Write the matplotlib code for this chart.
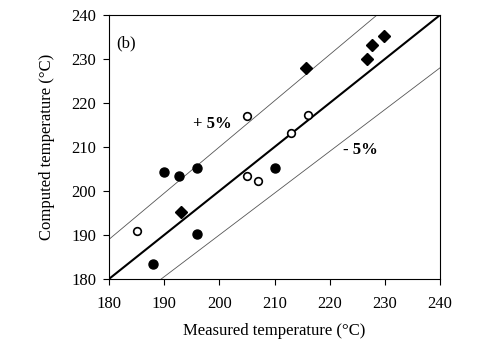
import numpy as np
import matplotlib.pyplot as plt

plt.rcParams['font.family'] = ['Liberation Serif', 'DejaVu Serif']

# open circles
open_x = [185, 205, 205, 207, 213, 216]
open_y = [191, 217, 203.4, 202.3, 213.2, 217.3]
# filled circles
fill_x = [188, 190, 192.7, 196, 196, 210]
fill_y = [183.4, 204.3, 203.4, 205.2, 190.2, 205.2]
# diamonds
dia_x = [193, 215.7, 226.8, 227.7, 229.8]
dia_y = [195.2, 228, 230, 233.2, 235.2]

ticks = [180, 190, 200, 210, 220, 230, 240]

fig = plt.figure(figsize=(5, 3.5), dpi=100)
ax = fig.add_axes([0.218, 0.203, 0.662, 0.754])

xx = np.array([180, 240])
ax.plot(xx, xx, color='black', lw=1.5)
ax.plot(xx, xx * 1.05, color='#555555', lw=0.6)
ax.plot(xx, xx * 0.95, color='#555555', lw=0.6)

ax.plot(open_x, open_y, 'o', ms=5.5, mfc='white', mec='black', mew=1.2)
ax.plot(fill_x, fill_y, 'o', ms=6.5, color='black')
ax.plot(dia_x, dia_y, 'D', ms=6, color='black')

ax.text(198.7, 215.2, '+ 5%', fontsize=12, fontweight='bold', ha='center', va='center')
ax.text(225.5, 209.3, '- 5%', fontsize=12, fontweight='bold', ha='center', va='center')
ax.text(181.4, 233.6, '(b)', fontsize=12, ha='left', va='center')

ax.set_xlim(180, 240)
ax.set_ylim(180, 240)
ax.set_xticks(ticks)
ax.set_yticks(ticks)
ax.tick_params(direction='out', length=4, labelsize=12)
ax.tick_params(axis='x', pad=8)
ax.tick_params(axis='y', pad=5)
ax.set_xlabel('Measured temperature (°C)', fontsize=12, labelpad=8)
ax.set_ylabel('Computed temperature (°C)', fontsize=12, labelpad=12)

fig.savefig('out.png', dpi=100)
